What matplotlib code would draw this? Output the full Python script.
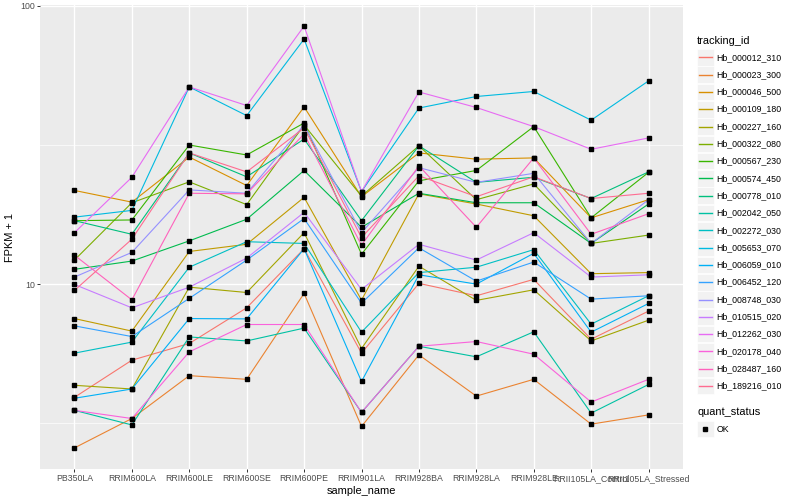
import numpy as np
import matplotlib.pyplot as plt
from matplotlib.lines import Line2D
from matplotlib.patches import Rectangle

# Samples on the x axis
samples = ['PB350LA', 'RRIM600LA', 'RRIM600LE', 'RRIM600SE', 'RRIM600PE',
           'RRIM901LA', 'RRIM928BA', 'RRIM928LA', 'RRIM928LE',
           'RRII105LA_Control', 'RRII105LA_Stressed']

# FPKM + 1 per gene
hb_000012_310 = [3.92, 5.33, 6.12, 8.22, 13.4, 5.65, 10.06, 9.08, 10.4, 6.34, 8.00]
hb_000023_300 = [2.58, 3.29, 4.69, 4.55, 9.26, 3.08, 5.57, 3.96, 4.55, 3.14, 3.39]
hb_000046_500 = [21.7, 19.7, 28.6, 22.6, 43.3, 20.6, 29.6, 28.1, 28.4, 17.3, 20.1]
hb_000109_180 = [7.52, 6.78, 13.1, 13.9, 20.5, 8.76, 21.1, 19.4, 17.6, 10.9, 11.0]
hb_000227_160 = [4.33, 4.20, 9.75, 9.33, 15.3, 5.87, 11.6, 8.74, 9.54, 6.25, 7.42]
hb_000322_080 = [12.2, 19.6, 23.3, 19.3, 37.3, 20.7, 31.4, 20.1, 22.9, 14.0, 15.0]
hb_000567_230 = [16.9, 17.0, 31.6, 29.1, 37.9, 12.8, 23.5, 25.6, 36.8, 17.3, 25.2]
hb_000574_450 = [11.3, 12.1, 14.3, 17.1, 25.6, 16.0, 21.2, 19.6, 19.6, 14.0, 19.4]
hb_000778_010 = [16.9, 15.1, 29.6, 24.3, 33.2, 16.9, 31.4, 23.2, 24.2, 20.3, 25.3]
hb_002042_050 = [3.52, 3.12, 6.46, 6.25, 6.95, 3.46, 5.98, 5.48, 6.74, 3.44, 4.36]
hb_002272_030 = [5.65, 6.19, 11.5, 14.2, 14.0, 6.72, 11.0, 11.5, 13.3, 7.18, 9.08]
hb_005653_070 = [17.4, 18.4, 51.1, 40.3, 75.9, 21.5, 42.9, 47.2, 49.2, 38.8, 53.7]
hb_006059_010 = [3.89, 4.20, 7.52, 7.50, 13.4, 4.47, 10.8, 10.0, 12.9, 6.72, 8.52]
hb_006452_120 = [7.08, 6.48, 8.89, 12.2, 17.2, 8.54, 13.5, 10.25, 12.0, 8.83, 9.08]
hb_008748_030 = [10.6, 13.0, 21.8, 21.2, 37.3, 15.3, 26.2, 23.2, 25.0, 14.0, 20.1]
hb_010515_020 = [9.97, 8.22, 9.75, 12.4, 18.1, 9.57, 13.9, 12.2, 15.3, 10.6, 10.8]
hb_012262_030 = [15.3, 24.2, 51.1, 43.8, 84.5, 21.5, 49.0, 43.1, 36.8, 30.5, 33.5]
hb_020178_040 = [3.52, 3.29, 5.71, 7.16, 7.16, 3.46, 5.98, 6.22, 5.60, 3.77, 4.55]
hb_028487_160 = [12.7, 8.78, 21.2, 21.1, 34.6, 13.8, 26.6, 16.0, 28.4, 15.1, 17.9]
hb_189216_010 = [9.49, 14.5, 29.6, 25.3, 36.4, 14.7, 24.5, 20.6, 24.3, 20.3, 21.2]

gene_ids = ['Hb_000012_310', 'Hb_000023_300', 'Hb_000046_500', 'Hb_000109_180',
            'Hb_000227_160', 'Hb_000322_080', 'Hb_000567_230', 'Hb_000574_450',
            'Hb_000778_010', 'Hb_002042_050', 'Hb_002272_030', 'Hb_005653_070',
            'Hb_006059_010', 'Hb_006452_120', 'Hb_008748_030', 'Hb_010515_020',
            'Hb_012262_030', 'Hb_020178_040', 'Hb_028487_160', 'Hb_189216_010']
series = [hb_000012_310, hb_000023_300, hb_000046_500, hb_000109_180,
          hb_000227_160, hb_000322_080, hb_000567_230, hb_000574_450,
          hb_000778_010, hb_002042_050, hb_002272_030, hb_005653_070,
          hb_006059_010, hb_006452_120, hb_008748_030, hb_010515_020,
          hb_012262_030, hb_020178_040, hb_028487_160, hb_189216_010]

# ggplot2 hue palette for 20 levels
colors = ['#F8766D', '#EA8331', '#D89000', '#C09B00', '#A3A500', '#7CAE00',
          '#39B600', '#00BB4E', '#00BF7D', '#00C1A3', '#00BFC4', '#00BAE0',
          '#00B0F6', '#35A2FF', '#9590FF', '#C77CFF', '#E76BF3', '#FA62DB',
          '#FF62BC', '#FF6C91']

plt.rcParams['font.family'] = ['Liberation Sans', 'DejaVu Sans']
W, H = 800, 500
fig = plt.figure(figsize=(8, 5), dpi=100)
ax = fig.add_axes([40 / W, 1 - 469 / H, (683 - 40) / W, (469 - 5) / H])
ax.set_facecolor('#EBEBEB')

x = np.arange(len(samples))
for vals, col in zip(series, colors):
    ax.plot(x, vals, color=col, lw=0.8, zorder=3)
for vals in series:
    ax.plot(x, vals, ls='none', marker='s', ms=2.2, color='black', zorder=4)

ax.set_yscale('log')
allv = np.log10(np.concatenate([np.array(s) for s in series]))
lo, hi = allv.min(), allv.max()
pad = 0.05 * (hi - lo)
ax.set_ylim(10 ** (lo - pad), 10 ** (hi + pad))
ax.set_xlim(-0.6, len(samples) - 0.4)

ax.set_yticks([10, 100])
ax.set_yticklabels(['10', '100'])
ax.set_yticks([10 ** 0.5, 10 ** 1.5], minor=True)
ax.yaxis.set_minor_formatter(plt.NullFormatter())
ax.set_xticks(x)
ax.set_xticklabels(samples)

ax.grid(True, which='major', color='white', lw=1.0, zorder=0)
ax.grid(True, which='minor', axis='y', color='white', lw=0.5, zorder=0)
ax.set_axisbelow(True)
for s in ax.spines.values():
    s.set_visible(False)
ax.tick_params(axis='both', which='major', length=2, width=0.7, color='#333333',
               labelsize=6.3, labelcolor='#4D4D4D', pad=1.6)
ax.tick_params(axis='y', which='minor', length=0)

ax.set_xlabel('sample_name', fontsize=7.9, labelpad=2)
ax.set_ylabel('FPKM + 1', fontsize=7.9, labelpad=4)

# legend drawn by hand in ggplot style
def fx(px):
    return px / W

def fy(py):
    return 1 - py / H

fig.text(fx(697), fy(40.7), 'tracking_id', fontsize=7.9, va='center', ha='left')
step = 17.3
for i, (gid, col) in enumerate(zip(gene_ids, colors)):
    yc = 57.3 + step * i
    fig.add_artist(Rectangle((fx(697), fy(yc + 8.3)), 16.6 / W, 16.6 / H,
                             transform=fig.transFigure, facecolor='#F2F2F2',
                             edgecolor='white', lw=0.5, zorder=1))
    fig.add_artist(Line2D([fx(698.5), fx(712)], [fy(yc), fy(yc)],
                          transform=fig.transFigure, color=col, lw=1.0, zorder=5))
    fig.text(fx(716.5), fy(yc), gid, fontsize=6.3, va='center', ha='left')

fig.text(fx(697), fy(411.7), 'quant_status', fontsize=7.9, va='center', ha='left')
fig.add_artist(Rectangle((fx(697), fy(429 + 8.3)), 16.6 / W, 16.6 / H,
                         transform=fig.transFigure, facecolor='#F2F2F2',
                         edgecolor='white', lw=0.5, zorder=1))
fig.add_artist(Line2D([fx(705.3)], [fy(429)], transform=fig.transFigure,
                      marker='s', ms=2.2, color='black', ls='none', zorder=5))
fig.text(fx(716.5), fy(429), 'OK', fontsize=6.3, va='center', ha='left')

fig.savefig('out.png', dpi=100)
